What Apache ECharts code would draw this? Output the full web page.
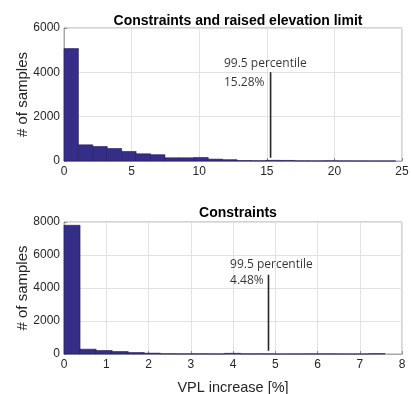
<!DOCTYPE html>
<html><head><meta charset="utf-8">
<script src="https://cdn.jsdelivr.net/npm/echarts@6/dist/echarts.min.js"></script>
<style>html,body{margin:0;padding:0;background:#fff}#c{width:411px;height:394px}</style>
</head><body><div id="c"></div>
<script>
// Top panel: "Constraints and raised elevation limit"
const topBinWidth = 1.0667;
const topCounts = [5070, 730, 655, 565, 430, 325, 285, 145, 145, 160, 85, 60, 20, 12, 30, 25, 8, 5, 10, 5, 3, 2, 2];
const topXTicks = [0, 5, 10, 15, 20, 25];
const topYTicks = [0, 2000, 4000, 6000];
const topPercentileX = 15.28;
const topPercentileLine = [4000, 150];
const topLabel = ['99.5 percentile', '15.28%'];
const topLabelPos = [[11.83, 4410], [11.83, 3560]];

// Bottom panel: "Constraints"
const botBinWidth = 0.38;
const botCounts = [7800, 290, 212, 150, 90, 50, 15, 8, 12, 5, 40, 10, 10, 3, 5, 8, 8, 3, 2, 20];
const botXTicks = [0, 1, 2, 3, 4, 5, 6, 7, 8];
const botYTicks = [0, 2000, 4000, 6000, 8000];
const botPercentileX = 4.84;
const botPercentileLine = [4800, 200];
const botLabel = ['99.5 percentile', '4.48%'];
const botLabelPos = [[3.93, 5420], [3.93, 4450]];

const titles = ['Constraints and raised elevation limit', 'Constraints'];

const FF = "'Liberation Sans', Arial, sans-serif";
const chart = echarts.init(document.getElementById('c'), null, {renderer: 'canvas'});
const tickFont = {fontFamily: FF, fontSize: 12, color: '#262626', formatter: v => String(v)};

function hist(counts, bw, idx) {
  const data = counts.map((c, i) => [i * bw, (i + 1) * bw, c]);
  return {
    type: 'custom', xAxisIndex: idx, yAxisIndex: idx, data: data,
    renderItem: function (params, api) {
      const p0 = api.coord([api.value(0), api.value(2)]);
      const p1 = api.coord([api.value(1), 0]);
      return {type: 'rect', shape: {x: p0[0], y: p0[1], width: p1[0] - p0[0], height: p1[1] - p0[1]},
        style: {fill: '#352d88', stroke: '#231c5e', lineWidth: 0.6}};
    },
    z: 2, silent: true
  };
}
function pline(x, ys, idx) {
  return {type: 'line', xAxisIndex: idx, yAxisIndex: idx, data: [[x, ys[0]], [x, ys[1]]],
    symbol: 'none', lineStyle: {color: '#262626', width: 1.6}, z: 3, silent: true};
}
function plabel(texts, pos, idx) {
  return {type: 'scatter', xAxisIndex: idx, yAxisIndex: idx, symbolSize: 0,
    data: pos.map((p, i) => ({value: p, name: texts[i]})),
    label: {show: true, position: 'right', distance: 0, formatter: '{b}',
      fontFamily: "'Open Sans', sans-serif", fontSize: 12, color: '#000'}, z: 4, silent: true};
}
function xAx(idx, ticks, name) {
  return {type: 'value', gridIndex: idx, min: ticks[0], max: ticks[ticks.length - 1], interval: ticks[1] - ticks[0],
    axisLine: {show: true, lineStyle: {color: '#a8a8a8'}}, axisTick: {show: true, inside: true, length: 3, lineStyle: {color: '#888'}},
    axisLabel: Object.assign({margin: 5}, tickFont),
    splitLine: {show: true, lineStyle: {color: '#e2e2e2'}},
    name: name || '', nameLocation: 'middle', nameGap: 26, nameMoveOverlap: false,
    nameTextStyle: {fontFamily: FF, fontSize: 14.5, color: '#262626'}};
}
function yAx(idx, ticks) {
  return {type: 'value', gridIndex: idx, min: ticks[0], max: ticks[ticks.length - 1], interval: ticks[1] - ticks[0],
    axisLine: {show: true, lineStyle: {color: '#a8a8a8'}}, axisTick: {show: true, inside: true, length: 3, lineStyle: {color: '#888'}},
    axisLabel: Object.assign({margin: 4}, tickFont),
    splitLine: {show: true, lineStyle: {color: '#e2e2e2'}},
    name: '# of samples', nameLocation: 'middle', nameGap: 34, nameMoveOverlap: false,
    nameTextStyle: {fontFamily: FF, fontSize: 15, color: '#262626'}};
}

chart.setOption({
  animation: false,
  title: [
    {text: titles[0], left: 233, top: 9, textAlign: 'center',
      textStyle: {fontFamily: FF, fontSize: 14, fontWeight: 'bold', color: '#000'}},
    {text: titles[1], left: 233, top: 201, textAlign: 'center',
      textStyle: {fontFamily: FF, fontSize: 14, fontWeight: 'bold', color: '#000'}}
  ],
  grid: [
    {left: 64, width: 338, top: 28, height: 133, show: true, borderColor: '#a8a8a8', borderWidth: 1,
      containLabel: false, outerBoundsMode: 'none'},
    {left: 64, width: 338, top: 222, height: 132, show: true, borderColor: '#a8a8a8', borderWidth: 1,
      containLabel: false, outerBoundsMode: 'none'}
  ],
  xAxis: [xAx(0, topXTicks), xAx(1, botXTicks, 'VPL increase [%]')],
  yAxis: [yAx(0, topYTicks), yAx(1, botYTicks)],
  series: [
    hist(topCounts, topBinWidth, 0), pline(topPercentileX, topPercentileLine, 0), plabel(topLabel, topLabelPos, 0),
    hist(botCounts, botBinWidth, 1), pline(botPercentileX, botPercentileLine, 1), plabel(botLabel, botLabelPos, 1)
  ]
});
</script></body></html>
